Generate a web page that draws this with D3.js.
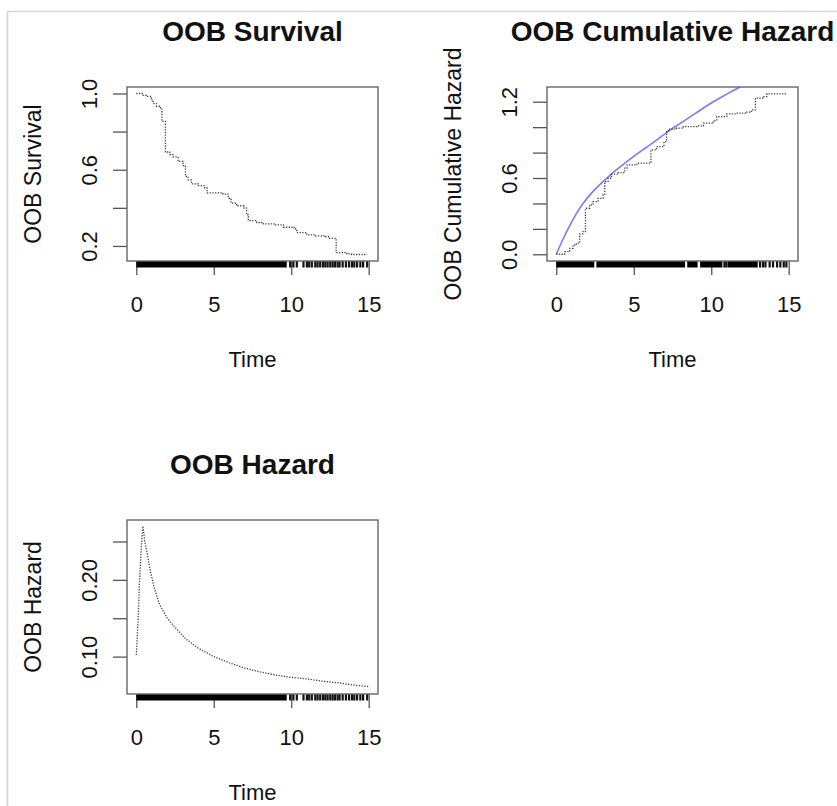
<!DOCTYPE html>
<html>
<head>
<meta charset="utf-8">
<script src="https://cdnjs.cloudflare.com/ajax/libs/d3/7.8.5/d3.min.js"></script>
<style>
  body { margin: 0; background: #fff; }
  svg text { font-family: "Liberation Sans", Arial, Helvetica, sans-serif; fill: #111; }
</style>
</head>
<body>
<svg id="chart" width="837" height="806"></svg>
<script>

// OOB survival (step curve)
const survTime  = [0, 0.39, 0.65, 0.97, 1.08, 1.3, 1.5, 1.65, 1.88, 2.16, 2.37, 2.7, 3.02, 3.17, 3.34, 3.56, 3.99, 4.42, 4.57, 5.6, 5.93, 6.11, 6.47, 6.95, 7.12, 7.23, 7.77, 8.2, 8.96, 9.5, 10.19, 10.36, 11.0, 11.56, 12.2, 12.4, 12.9, 13.6, 13.9, 14.9];
const survValue = [1.0, 0.99, 0.985, 0.966, 0.947, 0.933, 0.925, 0.854, 0.693, 0.679, 0.667, 0.644, 0.621, 0.565, 0.547, 0.526, 0.516, 0.504, 0.478, 0.472, 0.45, 0.425, 0.411, 0.398, 0.363, 0.333, 0.323, 0.316, 0.311, 0.298, 0.289, 0.27, 0.258, 0.253, 0.249, 0.24, 0.165, 0.158, 0.155, 0.155];

// OOB cumulative hazard (step curve)
const chfTime  = [0, 0.54, 0.86, 1.08, 1.3, 1.51, 1.72, 1.88, 2.15, 2.37, 2.7, 3.02, 3.13, 3.34, 3.56, 3.99, 4.42, 4.57, 5.2, 6.11, 6.47, 6.95, 7.12, 7.23, 7.77, 8.2, 9.07, 9.5, 10.14, 10.36, 11.0, 11.6, 12.3, 12.6, 12.85, 13.4, 13.6, 14.9];
const chfValue = [0, 0.02, 0.047, 0.073, 0.087, 0.16, 0.178, 0.362, 0.388, 0.414, 0.44, 0.467, 0.572, 0.598, 0.63, 0.643, 0.677, 0.703, 0.717, 0.821, 0.847, 0.887, 0.965, 0.984, 0.992, 1.005, 1.01, 1.031, 1.052, 1.083, 1.105, 1.11, 1.118, 1.136, 1.228, 1.24, 1.262, 1.262];

// smooth (blue) cumulative hazard
const fitTime  = [0, 0.4, 0.8, 1.25, 1.7, 2.3, 3.0, 3.5, 4.2, 5.0, 5.8, 6.6, 7.2, 8.0, 9.0, 10.0, 11.0, 11.9, 12.3];
const fitValue = [0, 0.11, 0.21, 0.31, 0.395, 0.485, 0.57, 0.625, 0.695, 0.77, 0.84, 0.91, 0.965, 1.03, 1.11, 1.19, 1.26, 1.32, 1.35];

// OOB hazard
const hazTime  = [0, 0.13, 0.21, 0.32, 0.43, 0.55, 0.7, 0.9, 1.15, 1.5, 2.0, 2.5, 3.2, 4.0, 5.0, 6.0, 7.0, 8.0, 9.0, 10.0, 11.0, 12.0, 13.0, 14.0, 15.0];
const hazValue = [0.102, 0.154, 0.198, 0.242, 0.270, 0.250, 0.235, 0.212, 0.190, 0.168, 0.150, 0.138, 0.123, 0.111, 0.100, 0.092, 0.085, 0.080, 0.076, 0.073, 0.071, 0.068, 0.066, 0.063, 0.061];

// rug of observed times: solid stretches and single ticks
const rugSpans  = [[0, 9.71]];
const rugTicks  = [9.93, 10.14, 10.36, 10.79, 11.01, 11.16, 11.33, 11.55, 11.7, 11.87, 12.05, 12.2, 12.35, 12.52, 12.67, 12.82, 12.99, 13.12, 13.32, 13.53, 13.73, 13.92, 14.07, 14.25, 14.46, 14.64, 14.9];
const rugSpans2 = [[0, 2.45], [2.59, 8.31], [8.45, 9.12], [9.28, 10.72], [11.05, 13.0]];
const rugTicks2 = [10.85, 10.97, 13.15, 13.34, 13.5, 13.77, 13.99, 14.25, 14.46, 14.68, 14.85];

// axes
const xTicks = [0, 5, 10, 15];
const survTicks = [0.2, 0.4, 0.6, 0.8, 1.0];
const survLabels = ["0.2", "0.6", "1.0"];
const chfTicks = [0, 0.2, 0.4, 0.6, 0.8, 1.0, 1.2];
const chfLabels = ["0.0", "0.6", "1.2"];
const hazTicks = [0.10, 0.15, 0.20, 0.25];
const hazLabels = ["0.10", "0.20"];

const svg = d3.select("#chart");

// light frame round the picture
svg.append("rect")
   .attr("x", 7.5).attr("y", 11.5)
   .attr("width", 900).attr("height", 900)
   .style("fill", "none")
   .style("stroke", "#d4d4d4")
   .style("stroke-width", 1.5);

const boxL = 127, boxR = 378, boxT = 87, boxB = 261;

function panel(ox, oy, o, id){
  let g = svg.append("g").attr("transform", `translate(${ox},${oy})`);

  let x = d3.scaleLinear().domain([-0.6, 15.6]).range([boxL, boxR]);
  let y = d3.scaleLinear().domain(o.yDomain).range([boxB, boxT]);

  g.append("clipPath").attr("id", "clip" + id)
   .append("rect")
   .attr("x", boxL).attr("y", boxT)
   .attr("width", boxR - boxL).attr("height", boxB - boxT);

  // x axis
  let xa = g.append("g")
            .attr("transform", `translate(0,${boxB})`)
            .call(d3.axisBottom(x).tickValues(xTicks).tickSize(14).tickSizeOuter(0));
  xa.select(".domain").remove();
  xa.selectAll("line").style("stroke", "#555").style("stroke-width", 1.3);
  xa.selectAll("text")
    .attr("y", 51).attr("dy", 0)
    .style("font-size", "22px")
    .style("fill", "#111");

  // y axis, labels parallel to axis
  let ya = g.append("g")
            .attr("transform", `translate(${boxL},0)`)
            .call(d3.axisLeft(y).tickValues(o.ticks).tickSize(14).tickSizeOuter(0)
                    .tickFormat((d)=>{
                      let s = d3.format(o.fmt)(d);
                      return o.labels.includes(s) ? s : "";
                    }));
  ya.select(".domain").remove();
  ya.selectAll("line").style("stroke", "#555").style("stroke-width", 1.3);
  ya.selectAll("text")
    .attr("x", 0).attr("dy", 0)
    .attr("transform", "translate(-30,0) rotate(-90)")
    .attr("text-anchor", "middle")
    .style("font-size", "22px")
    .style("fill", "#111");

  // rug
  g.selectAll(".span")
   .data(o.spans)
   .enter()
   .append("rect")
   .attr("x", (d)=> x(d[0]))
   .attr("y", boxB)
   .attr("width", (d)=> x(d[1]) - x(d[0]))
   .attr("height", 6.5)
   .style("fill", "#000");

  g.selectAll(".tick-rug")
   .data(o.ticksRug)
   .enter()
   .append("line")
   .attr("x1", (d)=> x(d)).attr("x2", (d)=> x(d))
   .attr("y1", boxB).attr("y2", boxB + 6.5)
   .attr("stroke", "#111")
   .attr("stroke-width", 2.2);

  // curves
  let line = d3.line()
               .x((d)=> x(d[0]))
               .y((d)=> y(d[1]))
               .curve(o.step ? d3.curveStepAfter : d3.curveLinear);

  if (o.fit) {
    g.append("path")
     .datum(d3.zip(fitTime, fitValue))
     .attr("clip-path", `url(#clip${id})`)
     .attr("d", d3.line().x((d)=> x(d[0])).y((d)=> y(d[1])).curve(d3.curveMonotoneX))
     .style("fill", "none")
     .style("stroke", "#7b7bf4")
     .style("stroke-width", 1.6);
  }

  g.append("path")
   .datum(d3.zip(o.tx, o.vy))
   .attr("d", line)
   .style("fill", "none")
   .style("stroke", "#444")
   .style("stroke-width", 1.3)
   .style("stroke-dasharray", "1.3,1.4");

  // box
  g.append("rect")
   .attr("x", boxL).attr("y", boxT)
   .attr("width", boxR - boxL).attr("height", boxB - boxT)
   .style("fill", "none")
   .style("stroke", "#666")
   .style("stroke-width", 1.4);

  // titles
  let cx = (boxL + boxR) / 2;
  g.append("text")
   .attr("x", cx).attr("y", 41)
   .attr("text-anchor", "middle")
   .style("font-size", "28px")
   .style("font-weight", "bold")
   .text(o.title);

  g.append("text")
   .attr("x", cx).attr("y", 367)
   .attr("text-anchor", "middle")
   .style("font-size", "22px")
   .text("Time");

  g.append("text")
   .attr("transform", `translate(41,${(boxT + boxB) / 2}) rotate(-90)`)
   .attr("text-anchor", "middle")
   .style("font-size", "23px")
   .text(o.title);
}

panel(0, 0, {
  title: "OOB Survival", yDomain: [0.121, 1.034],
  ticks: survTicks, labels: survLabels, fmt: ".1f",
  tx: survTime, vy: survValue, step: true,
  spans: rugSpans, ticksRug: rugTicks
}, 1);

panel(420, 0, {
  title: "OOB Cumulative Hazard", yDomain: [-0.053, 1.316],
  ticks: chfTicks, labels: chfLabels, fmt: ".1f",
  tx: chfTime, vy: chfValue, step: true, fit: true,
  spans: rugSpans2, ticksRug: rugTicks2
}, 2);

panel(0, 433, {
  title: "OOB Hazard", yDomain: [0.0513, 0.278],
  ticks: hazTicks, labels: hazLabels, fmt: ".2f",
  tx: hazTime, vy: hazValue, step: false,
  spans: rugSpans, ticksRug: rugTicks
}, 3);

</script>
</body>
</html>
